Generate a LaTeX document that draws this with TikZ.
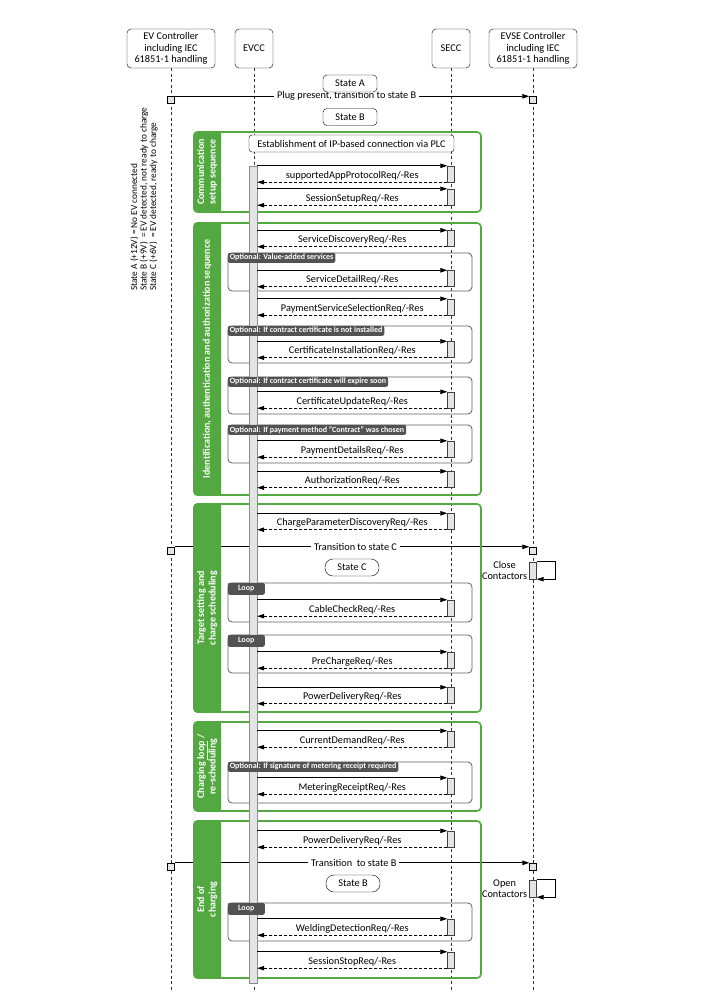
\documentclass[tikz,border=0pt]{standalone}
\usepackage{fontspec}
\setmainfont{Carlito}
\usetikzlibrary{arrows.meta, positioning}

\definecolor{secgreen}{RGB}{84,168,66}
\definecolor{taggray}{RGB}{82,82,82}
\definecolor{framegray}{RGB}{95,95,95}
\definecolor{barfill}{RGB}{228,228,228}
\definecolor{bardraw}{RGB}{140,140,140}

\newcommand{\msgfont}{\fontsize{10.3}{11.5}\selectfont}
\newcommand{\tagfont}{\fontsize{8}{9}\selectfont\bfseries}
\newcommand{\bandfont}{\fontsize{10}{11.5}\selectfont\bfseries}

\tikzset{
	head/.style={draw, fill=white, rounded corners=4pt, align=center, minimum height=39pt, inner sep=1pt, font=\msgfont},
	lifeline/.style={draw=black!80, dash pattern=on 3pt off 2.5pt, line width=0.6pt},
	req/.style={-{Triangle[length=7pt,width=4.5pt]}, line width=0.7pt},
	res/.style={req, dash pattern=on 3pt off 2pt},
	msg/.style={above=1pt, font=\msgfont, inner sep=1pt},
	lbl/.style={fill=white, font=\msgfont, inner xsep=3pt, inner ysep=0pt},
	sq/.style={draw, fill=barfill, minimum size=7pt, inner sep=0pt},
	act/.style={draw=black!75, fill=barfill, minimum width=7pt, minimum height=16pt, inner sep=0pt},
	bar/.style={draw=bardraw, fill=barfill, minimum width=8pt, inner sep=0pt},
	statebox/.style={draw, fill=white, rounded corners=4pt, minimum width=54pt, minimum height=17pt, inner sep=1pt, font=\msgfont},
	pill/.style={statebox, rounded corners=8pt},
	secbox/.style={draw=secgreen, line width=1.6pt, rounded corners=4pt, minimum width=287pt, inner sep=0pt},
	bandtext/.style={rotate=90, text=white, align=center, font=\bandfont},
	frame/.style={draw=framegray, line width=0.8pt, rounded corners=4pt, minimum width=244pt, inner sep=0pt},
	tag/.style={fill=taggray, text=white, font=\tagfont, anchor=north west, inner xsep=2pt, inner ysep=0.5pt, minimum height=10pt, rounded corners=2pt},
	looptag/.style={tag, minimum width=37pt, minimum height=12pt},
	note/.style={align=center, font=\msgfont, inner sep=1pt}
}

\begin{document}
\begin{tikzpicture}[x=1pt, y=-1pt]
	\useasboundingbox (0,0) rectangle (720,995);
	\coordinate (bottom) at (0,990);

	% lifelines
	\node[head, minimum width=88pt] (evCtrl) at (171,48.5) {EV Controller\\including IEC\\61851-1 handling};
	\node[head, minimum width=38pt] (evcc) at (254,48.5) {EVCC};
	\node[head, minimum width=38pt] (secc) at (451,48.5) {SECC};
	\node[head, minimum width=88pt] (evseCtrl) at (533,48.5) {EVSE Controller\\including IEC\\61851-1 handling};
	\draw[lifeline] (evCtrl.south) -- (evCtrl.south |- bottom);
	\draw[lifeline] (evcc.south) -- (evcc.south |- bottom);
	\draw[lifeline] (secc.south) -- (secc.south |- bottom);
	\draw[lifeline] (evseCtrl.south) -- (evseCtrl.south |- bottom);

	\node[rotate=90, anchor=north west, align=left, font=\fontsize{9.3}{9.6}\selectfont, inner sep=0pt] (stateNote) at (130,291)
		{State A (+12V) = No EV connected\\State B (+9V)\ \ = EV detected, not ready to charge\\State C (+6V)\ \ = EV detected, ready to charge};

	% plug transitions
	\node[sq] (plugL) at (171,100) {};
	\node[sq] (plugR) at (533,100) {};
	\draw[req] (plugL.north east) -- node[lbl, pos=0.485] {Plug present, transition to state B} (plugR.north west);
	\node[sq] (transCL) at (171,550.5) {};
	\node[sq] (transCR) at (533,550.5) {};
	\draw[req] (transCL.north east) -- node[lbl, pos=0.51] {Transition to state C} (transCR.north west);
	\node[sq] (transBL) at (171,866.5) {};
	\node[sq] (transBR) at (533,866.5) {};
	\draw[req] (transBL.north east) -- node[lbl, pos=0.505] {Transition\ \ to state B} (transBR.north west);

	% sections
	\node[secbox, minimum height=80pt] (commSec) at (337.5,172) {};
	\fill[secgreen, rounded corners=4pt] (commSec.north west) rectangle ([xshift=28pt]commSec.south west);
	\fill[secgreen] ([xshift=14pt]commSec.north west) rectangle ([xshift=28pt]commSec.south west);
	\node[bandtext] (commLbl) at ([xshift=14pt]commSec.west) {Communication\\setup sequence};

	\node[secbox, minimum height=272pt] (identSec) at (337.5,359) {};
	\fill[secgreen, rounded corners=4pt] (identSec.north west) rectangle ([xshift=28pt]identSec.south west);
	\fill[secgreen] ([xshift=14pt]identSec.north west) rectangle ([xshift=28pt]identSec.south west);
	\node[bandtext] (identLbl) at ([xshift=14pt]identSec.west) {Identification, authentication and authorization sequence};

	\node[secbox, minimum height=208pt] (targetSec) at (337.5,608) {};
	\fill[secgreen, rounded corners=4pt] (targetSec.north west) rectangle ([xshift=28pt]targetSec.south west);
	\fill[secgreen] ([xshift=14pt]targetSec.north west) rectangle ([xshift=28pt]targetSec.south west);
	\node[bandtext] (targetLbl) at ([xshift=14pt]targetSec.west) {Target setting and\\charge scheduling};

	\node[secbox, minimum height=89pt] (chargeSec) at (337.5,766.5) {};
	\fill[secgreen, rounded corners=4pt] (chargeSec.north west) rectangle ([xshift=28pt]chargeSec.south west);
	\fill[secgreen] ([xshift=14pt]chargeSec.north west) rectangle ([xshift=28pt]chargeSec.south west);
	\node[bandtext] (chargeLbl) at ([xshift=14pt]chargeSec.west) {Charging \underline{loop} /\\re-scheduling};

	\node[secbox, minimum height=157pt] (endSec) at (337.5,899.5) {};
	\fill[secgreen, rounded corners=4pt] (endSec.north west) rectangle ([xshift=28pt]endSec.south west);
	\fill[secgreen] ([xshift=14pt]endSec.north west) rectangle ([xshift=28pt]endSec.south west);
	\node[bandtext] (endLbl) at ([xshift=14pt]endSec.west) {End of\\charging};

	% optional and loop frames
	\node[frame, minimum height=38pt] (optVas) at (350,272) {};
	\node[frame, minimum height=37pt] (optInst) at (350,344.5) {};
	\node[frame, minimum height=37pt] (optUpd) at (350,395.5) {};
	\node[frame, minimum height=38pt] (optPay) at (350,444) {};
	\node[frame, minimum height=39pt] (loopCable) at (350,602.5) {};
	\node[frame, minimum height=38pt] (loopPre) at (350,654) {};
	\node[frame, minimum height=41pt] (optMeter) at (350,782.5) {};
	\node[frame, minimum height=38pt] (loopWeld) at (350,922) {};

	% states
	\node[statebox] (stateA) at (350,83.5) {State A};
	\node[statebox] (stateB) at (350,117) {State B};
	\node[draw, fill=white, rounded corners=3pt, minimum width=205pt, minimum height=17pt, inner sep=1pt, font=\msgfont] (ipConn) at (351.5,143.5) {Establishment of IP-based connection via PLC};
	\node[pill] (stateC) at (352,567.5) {State C};
	\node[pill] (stateB2) at (353,883.5) {State B};

	% EVCC activation
	\node[bar, minimum height=817pt] (evccBar) at (253,574.5) {};

	\node[tag] (optVasTag) at (optVas.north west) {Optional: Value-added services};
	\node[tag] (optInstTag) at (optInst.north west) {Optional: If contract certificate is not installed};
	\node[tag] (optUpdTag) at (optUpd.north west) {Optional: If contract certificate will expire soon};
	\node[tag] (optPayTag) at (optPay.north west) {Optional: If payment method "Contract" was chosen};
	\node[looptag] (loopCableTag) at (loopCable.north west) {Loop};
	\node[looptag] (loopPreTag) at (loopPre.north west) {Loop};
	\node[tag] (optMeterTag) at (optMeter.north west) {Optional: If signature of metering receipt required};
	\node[looptag] (loopWeldTag) at (loopWeld.north west) {Loop};

	% messages
	\node[act] (sapAct) at (451,174) {};
	\draw[req] (evccBar.east |- sapAct.north) -- (sapAct.north west);
	\draw[res] (sapAct.south west) -- node[msg] {supportedAppProtocolReq/-Res} (evccBar.east |- sapAct.south);

	\node[act] (setupAct) at (451,197) {};
	\draw[req] (evccBar.east |- setupAct.north) -- (setupAct.north west);
	\draw[res] (setupAct.south west) -- node[msg] {SessionSetupReq/-Res} (evccBar.east |- setupAct.south);

	\node[act] (discAct) at (451,238.5) {};
	\draw[req] (evccBar.east |- discAct.north) -- (discAct.north west);
	\draw[res] (discAct.south west) -- node[msg] {ServiceDiscoveryReq/-Res} (evccBar.east |- discAct.south);

	\node[act] (detailAct) at (451,278.5) {};
	\draw[req] (evccBar.east |- detailAct.north) -- (detailAct.north west);
	\draw[res] (detailAct.south west) -- node[msg] {ServiceDetailReq/-Res} (evccBar.east |- detailAct.south);

	\node[act] (paySelAct) at (451,307) {};
	\draw[req] (evccBar.east |- paySelAct.north) -- (paySelAct.north west);
	\draw[res] (paySelAct.south west) -- node[msg] {PaymentServiceSelectionReq/-Res} (evccBar.east |- paySelAct.south);

	\node[act] (certInstAct) at (451,349.5) {};
	\draw[req] (evccBar.east |- certInstAct.north) -- (certInstAct.north west);
	\draw[res] (certInstAct.south west) -- node[msg] {CertificateInstallationReq/-Res} (evccBar.east |- certInstAct.south);

	\node[act] (certUpdAct) at (451,400) {};
	\draw[req] (evccBar.east |- certUpdAct.north) -- (certUpdAct.north west);
	\draw[res] (certUpdAct.south west) -- node[msg] {CertificateUpdateReq/-Res} (evccBar.east |- certUpdAct.south);

	\node[act] (payDetAct) at (451,449) {};
	\draw[req] (evccBar.east |- payDetAct.north) -- (payDetAct.north west);
	\draw[res] (payDetAct.south west) -- node[msg] {PaymentDetailsReq/-Res} (evccBar.east |- payDetAct.south);

	\node[act] (authAct) at (451,479.5) {};
	\draw[req] (evccBar.east |- authAct.north) -- (authAct.north west);
	\draw[res] (authAct.south west) -- node[msg] {AuthorizationReq/-Res} (evccBar.east |- authAct.south);

	\node[act] (cpdAct) at (451,521.5) {};
	\draw[req] (evccBar.east |- cpdAct.north) -- (cpdAct.north west);
	\draw[res] (cpdAct.south west) -- node[msg] {ChargeParameterDiscoveryReq/-Res} (evccBar.east |- cpdAct.south);

	\node[act] (cableAct) at (451,608) {};
	\draw[req] (evccBar.east |- cableAct.north) -- (cableAct.north west);
	\draw[res] (cableAct.south west) -- node[msg] {CableCheckReq/-Res} (evccBar.east |- cableAct.south);

	\node[act] (preAct) at (451,660) {};
	\draw[req] (evccBar.east |- preAct.north) -- (preAct.north west);
	\draw[res] (preAct.south west) -- node[msg] {PreChargeReq/-Res} (evccBar.east |- preAct.south);

	\node[act] (powerAct) at (451,695.5) {};
	\draw[req] (evccBar.east |- powerAct.north) -- (powerAct.north west);
	\draw[res] (powerAct.south west) -- node[msg] {PowerDeliveryReq/-Res} (evccBar.east |- powerAct.south);

	\node[act] (demandAct) at (451,739) {};
	\draw[req] (evccBar.east |- demandAct.north) -- (demandAct.north west);
	\draw[res] (demandAct.south west) -- node[msg] {CurrentDemandReq/-Res} (evccBar.east |- demandAct.south);

	\node[act] (meterAct) at (451,786) {};
	\draw[req] (evccBar.east |- meterAct.north) -- (meterAct.north west);
	\draw[res] (meterAct.south west) -- node[msg] {MeteringReceiptReq/-Res} (evccBar.east |- meterAct.south);

	\node[act] (powerEndAct) at (451,839) {};
	\draw[req] (evccBar.east |- powerEndAct.north) -- (powerEndAct.north west);
	\draw[res] (powerEndAct.south west) -- node[msg] {PowerDeliveryReq/-Res} (evccBar.east |- powerEndAct.south);

	\node[act] (weldAct) at (451,927) {};
	\draw[req] (evccBar.east |- weldAct.north) -- (weldAct.north west);
	\draw[res] (weldAct.south west) -- node[msg] {WeldingDetectionReq/-Res} (evccBar.east |- weldAct.south);

	\node[act] (stopAct) at (451,960) {};
	\draw[req] (evccBar.east |- stopAct.north) -- (stopAct.north west);
	\draw[res] (stopAct.south west) -- node[msg] {SessionStopReq/-Res} (evccBar.east |- stopAct.south);

	% contactors
	\node[act, minimum height=17pt] (closeAct) at (533,570.5) {};
	\draw[req] (closeAct.north east) -- ++(19,0) |- (closeAct.south east);
	\node[note, left=1pt of closeAct] (closeLbl) {Close\\Contactors};
	\node[act, minimum height=17pt] (openAct) at (533,888.5) {};
	\draw[req] (openAct.north east) -- ++(19,0) |- (openAct.south east);
	\node[note, left=1pt of openAct] (openLbl) {Open\\Contactors};
\end{tikzpicture}
\end{document}
